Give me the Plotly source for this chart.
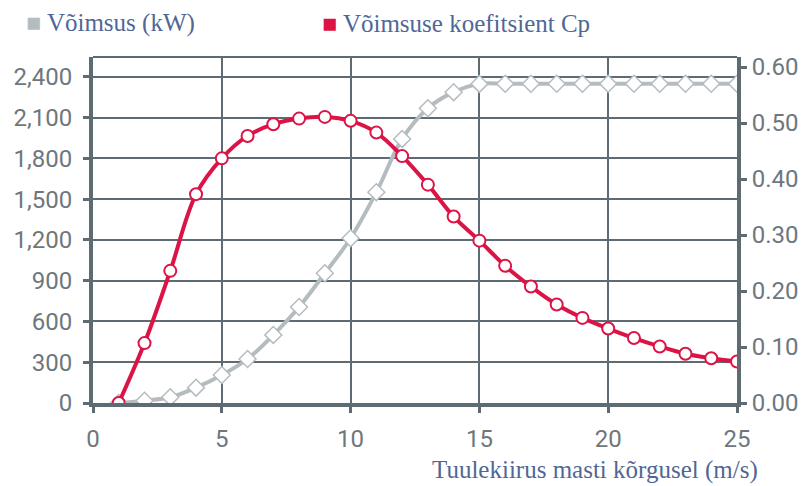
import plotly.graph_objects as go

wind_speed = list(range(1, 26))
power_kw = [0, 17, 42, 113, 206, 324, 501, 707, 955, 1213, 1552, 1944, 2170,
            2288, 2349, 2350, 2350, 2350, 2350, 2350, 2350, 2350, 2350, 2350, 2350]
cp = [0.0, 0.107, 0.236, 0.373, 0.437, 0.477, 0.498, 0.508, 0.511, 0.504,
      0.483, 0.441, 0.390, 0.333, 0.290, 0.245, 0.208, 0.176, 0.152, 0.133,
      0.116, 0.101, 0.088, 0.080, 0.074]

AXIS = "#5f6b73"
TICK_TXT = "#6e777d"
GREY = "#b5bcc0"
RED = "#dc1446"
LEGEND_TXT = "#4f6795"

fig = go.Figure()
fig.add_trace(go.Scatter(
    x=wind_speed, y=power_kw, mode="lines+markers", line_shape="spline",
    line=dict(color=GREY, width=4),
    marker=dict(symbol="diamond", size=13, color="white",
                line=dict(color=GREY, width=1.5)),
    name="Võimsus (kW)", yaxis="y",
))
fig.add_trace(go.Scatter(
    x=wind_speed, y=cp, mode="lines+markers", line_shape="spline",
    line=dict(color=RED, width=4),
    marker=dict(symbol="circle", size=12, color="white",
                line=dict(color=RED, width=2)),
    name="Võimsuse koefitsient Cp", yaxis="y2",
))

tick_font = dict(family="Roboto", size=24, color=TICK_TXT)
legend_font = dict(family="Liberation Serif", size=25, color=LEGEND_TXT)
axis_style = dict(zeroline=False, showline=True, linecolor=AXIS, linewidth=4,
                  ticks="outside", ticklen=6, tickwidth=3, tickcolor=AXIS,
                  tickfont=tick_font, automargin=False)

# the page body has an 8px margin, so the figure is a bit smaller than the window
fig.update_layout(
    width=799, height=478,
    margin=dict(l=85, r=70, t=49, b=83),
    plot_bgcolor="white", paper_bgcolor="white",
    showlegend=False,
    xaxis=dict(range=[0, 25], dtick=5, showgrid=True, gridcolor=AXIS, gridwidth=2,
               ticklabelstandoff=5, **axis_style),
    yaxis=dict(range=[0, 2547], dtick=300, tickformat=",d", showgrid=True,
               gridcolor=AXIS, gridwidth=2, ticklabelstandoff=6, **axis_style),
    yaxis2=dict(range=[0, 0.618], dtick=0.1, tickformat=".2f", overlaying="y",
                side="right", showgrid=False, ticklabelstandoff=0, **axis_style),
    shapes=[dict(type="line", xref="paper", yref="paper", x0=0, x1=1, y0=1, y1=1,
                 line=dict(color=AXIS, width=2))],
    annotations=[
        dict(text=f"<span style='color:{GREY}'>■</span> Võimsus (kW)",
             xref="paper", yref="paper", x=-0.105, y=1.097, xanchor="left",
             yanchor="middle", showarrow=False, borderpad=0, font=legend_font),
        dict(text=f"<span style='color:{RED}'>■</span> Võimsuse koefitsient Cp",
             xref="paper", yref="paper", x=0.354, y=1.097, xanchor="left",
             yanchor="middle", showarrow=False, borderpad=0, font=legend_font),
        dict(text="Tuulekiirus masti kõrgusel (m/s)",
             xref="paper", yref="paper", x=1.035, y=-0.195, xanchor="right",
             yanchor="middle", showarrow=False, font=legend_font),
    ],
)

fig.write_html("out.html")
